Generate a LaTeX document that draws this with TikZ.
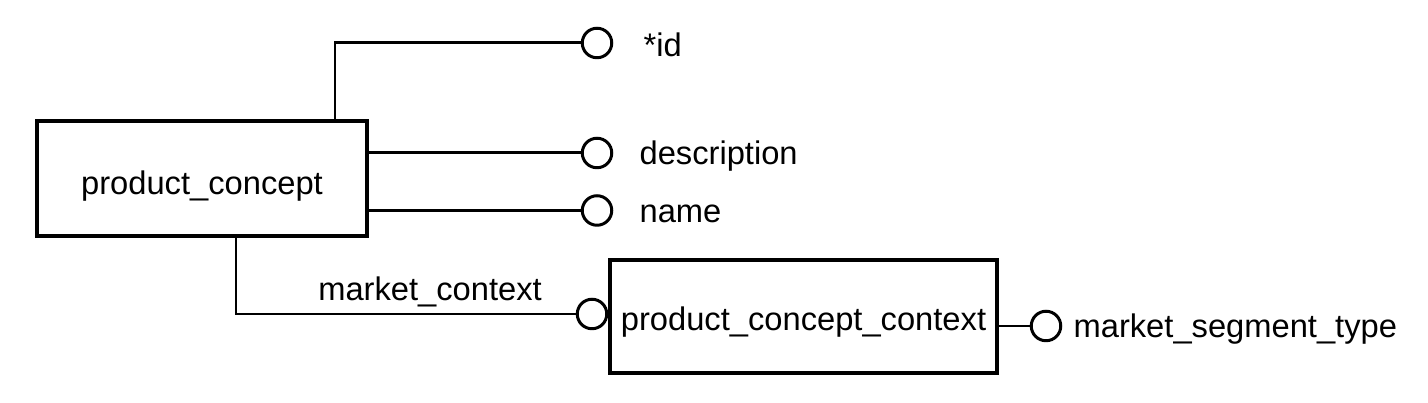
\documentclass[tikz,border=0pt]{standalone}
\usepackage{fontspec}
\setmainfont{Liberation Sans}
\usetikzlibrary{positioning}
\tikzset{entity/.style={draw=black, line width=2pt, rectangle, inner sep=0pt, text depth=0pt}}
\tikzset{attrib/.style={draw=black, line width=1.7pt, circle, minimum size=0.59cm, inner sep=0pt}}
\tikzset{link/.style={draw=black, line width=1.7pt}}
\tikzset{lbl/.style={inner sep=0pt, text height=0.468cm, text depth=0pt, anchor=west}}

\begin{document}
\begin{tikzpicture}[font=\fontsize{18.6}{22}\selectfont]
\def\xattr {11.94}  % x-position of the attribute circles
\def\gapattr {0.52} % gap between circle and its label
\useasboundingbox (0,0) rectangle (28.56,8.06);
% entities:
\node[entity, text height=0.65cm, minimum width=6.6cm, minimum height=2.3cm] (pc) at (4.04,4.49) {product\_concept};
\node[entity, text height=0.55cm, minimum width=7.74cm, minimum height=2.26cm] (pcc) at (16.07,1.73) {product\_concept\_context};
% attributes:
\node[attrib] (id) at (\xattr,7.2) {};
\node[attrib] (desc) at (\xattr,5.0) {};
\node[attrib] (name) at (\xattr,3.85) {};
\node[attrib] (mctx) at (11.84,1.78) {};
\node[attrib] (mseg) at (20.92,1.54) {};
% labels:
\node[lbl] (idtxt) at ([xshift=\gapattr cm+0.08cm,yshift=-0.04cm]id.east) {*id};
\node[lbl] (desctxt) at ([xshift=\gapattr cm]desc.east) {description};
\node[lbl] (nametxt) at ([xshift=\gapattr cm]name.east) {name};
\node[lbl] (msegtxt) at ([xshift=0.22cm]mseg.east) {market\_segment\_type};
\node[lbl, anchor=center] (mctxtxt) at (8.6,2.28) {market\_context};
% connectors:
\draw[link] ([xshift=2.66cm]pc.north) |- (id.west);
\draw[link] (pc.east |- desc) -- (desc.west);
\draw[link] (pc.east |- name) -- (name.west);
\draw[link] ([xshift=0.68cm]pc.south) |- (mctx.west);
\draw[link] (pcc.east |- mseg) -- (mseg.west);
\end{tikzpicture}
\end{document}
